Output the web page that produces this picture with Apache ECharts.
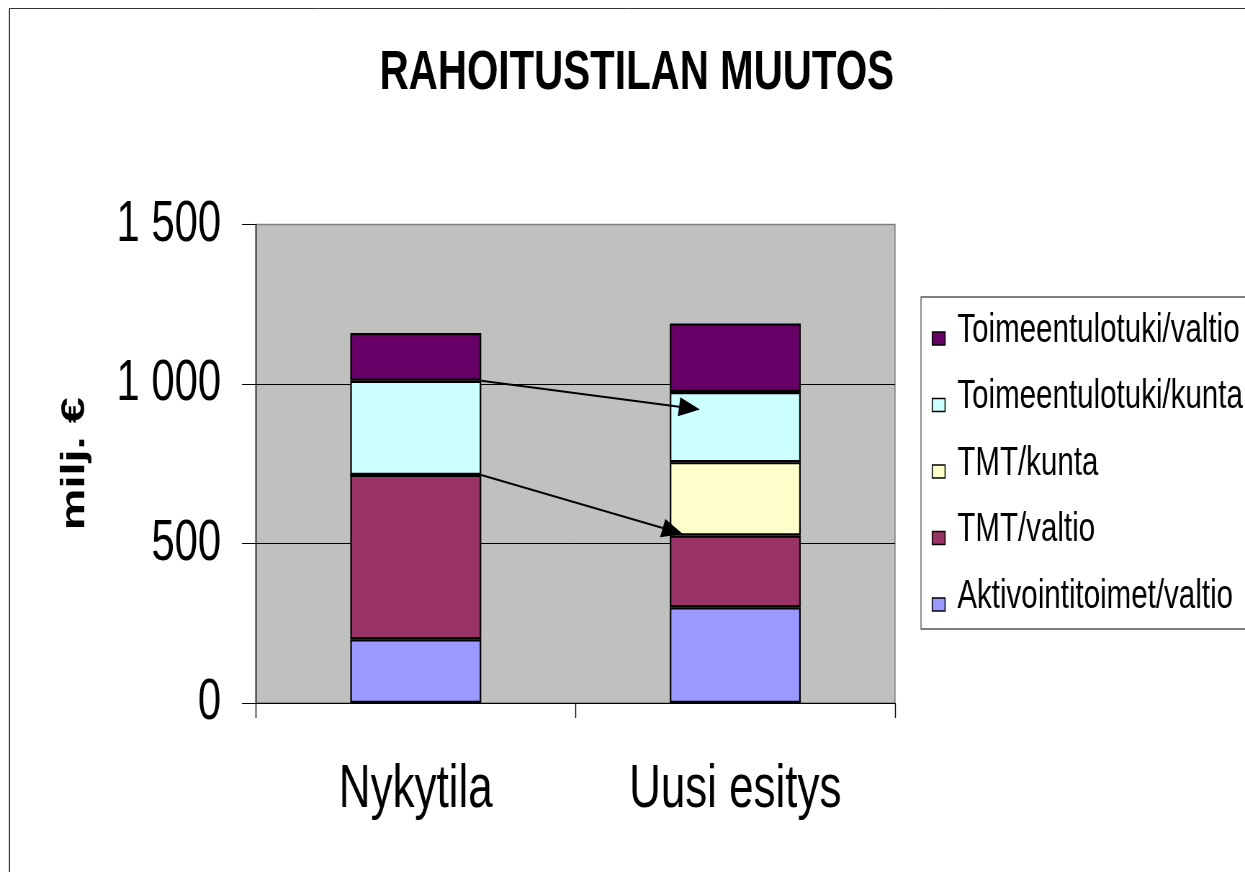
<!DOCTYPE html>
<html><head><meta charset="utf-8">
<script src="https://cdn.jsdelivr.net/npm/echarts@6/dist/echarts.min.js"></script>
<style>
html,body{margin:0;padding:0;background:#fff;overflow:hidden;width:1245px;height:872px}
#wrap{width:1245px;height:872px;overflow:hidden;position:relative}
#c{width:1729px;height:872px;transform:scaleX(0.72007);transform-origin:0 0;position:absolute;left:0;top:0}
</style>
</head><body><div id="wrap"><div id="c"></div></div>
<script>
// ---- data ----
const categories = ['Nykytila', 'Uusi esitys'];
const aktivointiValtio = [200, 300];
const tmtValtio = [515, 225];
const tmtKunta = [0, 230];
const toimeentulotukiKunta = [295, 220];
const toimeentulotukiValtio = [150, 215];
const yTickValues = [0, 500, 1000, 1500];
const yTickLabels = ['0', '500', '1 000', '1 500'];
const seriesNames = ['Aktivointitoimet/valtio', 'TMT/valtio', 'TMT/kunta', 'Toimeentulotuki/kunta', 'Toimeentulotuki/valtio'];
const seriesColors = ['#9999FF', '#993366', '#FFFFCC', '#CCFFFF', '#660066'];
// annotation arrows: from a segment top in "Nykytila" to a level in "Uusi esitys"
const arrowFrom = [1010, 715];
const arrowTo = [920, 530];
const arrowTipInset = [0.23, 0.10]; // fraction of bar width inside target bar

// the reference is horizontally condensed; the canvas is drawn wider and condensed by S
const S = 1245 / 1729;
const X = px => px / S;           // screen px -> canvas px (horizontal)
const FONT = "'Liberation Sans', Arial, sans-serif";
const BAR_W = 0.41;

const chart = echarts.init(document.getElementById('c'), null, { width: 1729, height: 872 });
const dataSets = [aktivointiValtio, tmtValtio, tmtKunta, toimeentulotukiKunta, toimeentulotukiValtio];

chart.setOption({
  animation: false,
  backgroundColor: '#ffffff',
  title: {
    text: 'RAHOITUSTILAN MUUTOS',
    left: X(376), top: 41,
    textStyle: { fontFamily: FONT, fontWeight: 'bold', fontSize: 56, color: '#000' }
  },
  legend: {
    orient: 'vertical',
    left: X(921), top: 297,
    padding: [11.5, 120, 10.5, X(931.7 - 921)],
    borderColor: '#555', borderWidth: 1.3,
    itemWidth: X(12.8), itemHeight: 29, itemGap: 22.5,
    icon: 'path://M0,0M0,16L13,16L13,29L0,29Z',
    symbolKeepAspect: false,
    itemStyle: { borderColor: '#000', borderWidth: 1.6 },
    textStyle: { fontFamily: FONT, fontSize: 41, color: '#000', lineHeight: 44, padding: [0, 0, 0, 12] },
    data: seriesNames.slice().reverse()
  },
  grid: {
    left: X(256), right: X(1245 - 895), top: 224.5, bottom: 169,
    show: true, backgroundColor: '#C0C0C0', borderColor: '#808080', borderWidth: 1.6
  },
  xAxis: {
    type: 'category', data: categories, boundaryGap: true,
    axisLine: { lineStyle: { color: '#000', width: 1 } },
    axisTick: { show: true, interval: 0, length: 15, lineStyle: { color: '#000', width: 1.4 } },
    axisLabel: { interval: 0, margin: 57, fontFamily: FONT, fontSize: 61, color: '#000' }
  },
  yAxis: {
    type: 'value', min: 0, max: 1500, interval: 500,
    name: 'milj. €', nameLocation: 'middle', nameGap: 228, nameRotate: 90, nameMoveOverlap: false,
    nameTextStyle: { fontFamily: FONT, fontWeight: 'bold', fontSize: 47, color: '#000' },
    axisLine: { show: true, lineStyle: { color: '#000', width: 1.4 } },
    axisTick: { show: true, length: X(14), lineStyle: { color: '#000' } },
    axisLabel: {
      margin: X(35), fontFamily: FONT, fontSize: 58, color: '#000',
      formatter: v => { const i = yTickValues.indexOf(v); return i >= 0 ? yTickLabels[i] : String(v); }
    },
    splitLine: { show: true, showMaxLine: false, lineStyle: { color: '#000', width: 1 } }
  },
  series: seriesNames.map((n, i) => ({
    name: n, type: 'bar', stack: 'total', barWidth: (BAR_W * 100) + '%',
    data: dataSets[i],
    itemStyle: { color: seriesColors[i], borderColor: '#000', borderWidth: 2.2 }
  }))
});

function drawAnnotations() {
  const g = [];
  // outer chart frame (extends beyond the window on right/bottom)
  g.push({ type: 'line', shape: { x1: X(9.5), y1: 8.5, x2: 1800, y2: 8.5 }, style: { stroke: '#333', lineWidth: 1 }, silent: true, z: 100 });
  g.push({ type: 'line', shape: { x1: X(9.5), y1: 8.5, x2: X(9.5), y2: 900 }, style: { stroke: '#000', lineWidth: 1.4 }, silent: true, z: 100 });
  const c0 = chart.convertToPixel({ gridIndex: 0 }, [categories[0], 0]);
  const c1 = chart.convertToPixel({ gridIndex: 0 }, [categories[1], 0]);
  const barW = (c1[0] - c0[0]) * BAR_W;
  for (let i = 0; i < arrowFrom.length; i++) {
    const s = chart.convertToPixel({ gridIndex: 0 }, [categories[0], arrowFrom[i]]);
    const e = chart.convertToPixel({ gridIndex: 0 }, [categories[1], arrowTo[i]]);
    // arrow head geometry in screen space
    const x1 = (s[0] + barW / 2) * S, y1 = s[1];
    const x2 = (e[0] - barW / 2 + barW * arrowTipInset[i]) * S, y2 = e[1];
    const dx = x2 - x1, dy = y2 - y1, L = Math.hypot(dx, dy);
    const ux = dx / L, uy = dy / L, headL = 21, headW = 9.5;
    const bx = x2 - ux * headL, by = y2 - uy * headL;
    const P = (x, y) => [x / S, y];
    g.push({ type: 'line', shape: { x1: x1 / S, y1, x2: bx / S, y2: by }, style: { stroke: '#000', lineWidth: 2 }, z: 50 });
    g.push({ type: 'polygon', shape: { points: [P(x2, y2), P(bx - uy * headW, by + ux * headW), P(bx + uy * headW, by - ux * headW)] }, style: { fill: '#000' }, z: 50 });
  }
  chart.setOption({ graphic: g });
}
drawAnnotations();
</script></body></html>
